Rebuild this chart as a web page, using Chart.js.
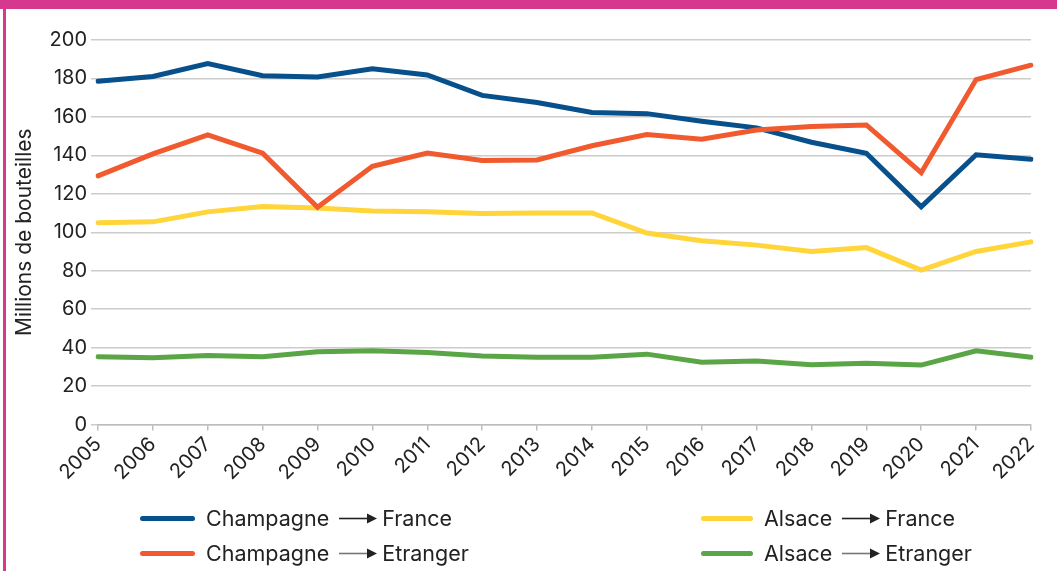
<!DOCTYPE html>
<html>
<head>
<meta charset="utf-8">
<script src="https://cdn.jsdelivr.net/npm/chart.js@4/dist/chart.umd.min.js"></script>
<style>
  html, body { margin: 0; padding: 0; background: #fff; }
  #wrap { position: relative; width: 1057px; height: 571px; overflow: hidden; background: #fff; }
  #topband { position: absolute; left: 0; top: 0; width: 1057px; height: 9px; background: #D6388F; }
  #leftband { position: absolute; left: 3px; top: 9px; width: 3px; height: 562px; background: #D6388F; }
  canvas { position: absolute; left: 0; top: 0; }
  .lg { position: absolute; height: 26px; display: flex; align-items: center; font-family: Inter, Lato, sans-serif; font-size: 21.5px; color: #222; white-space: nowrap; }
  .sw { position: absolute; height: 5px; border-radius: 3px; }
  .arrow { display: inline-block; width: 38px; height: 11px; margin: 0 5px 0 10px; }
</style>
</head>
<body>
<div id="wrap">
  <canvas id="c" width="1057" height="571"></canvas>
  <div id="topband"></div>
  <div id="leftband"></div>
  <div id="legend"></div>
</div>
<script>
const years = ['2005','2006','2007','2008','2009','2010','2011','2012','2013','2014','2015','2016','2017','2018','2019','2020','2021','2022'];
const champagneFrance   = [178.5,181,187.7,181.4,180.8,185,181.8,171.2,167.5,162.3,161.7,157.7,154.3,146.8,141.1,113.2,140.3,138];
const champagneEtranger = [129.3,140.8,150.7,141.1,113,134.3,141.2,137.3,137.6,145,150.8,148.4,153.2,155,155.8,131,179.4,186.9];
const alsaceFrance      = [105,105.4,110.6,113.4,112.6,111.1,110.7,109.7,110,110,99.6,95.6,93.3,90,92,80.3,90,95];
const alsaceEtranger    = [35.3,34.7,35.9,35.2,37.8,38.3,37.5,35.6,35,35,36.6,32.4,33,31.1,31.8,30.9,38.3,35];
const yTicks = [0,20,40,60,80,100,120,140,160,180,200];
const seriesNames = [['Champagne','France'],['Champagne','Etranger'],['Alsace','France'],['Alsace','Etranger']];
const colors = ['#07508B','#F15A2E','#FFD53A','#5AA545'];

const mk = (i, data, order) => ({
  label: seriesNames[i][0] + ' → ' + seriesNames[i][1],
  data, borderColor: colors[i], backgroundColor: colors[i],
  borderWidth: 5, pointRadius: 0, tension: 0, fill: false,
  borderCapStyle: 'round', borderJoinStyle: 'miter', order
});

new Chart(document.getElementById('c'), {
  type: 'line',
  data: {
    labels: years,
    datasets: [
      mk(0, champagneFrance, 1),
      mk(1, champagneEtranger, 0),
      mk(2, alsaceFrance, 2),
      mk(3, alsaceEtranger, 3)
    ]
  },
  options: {
    responsive: false,
    devicePixelRatio: 1,
    animation: false,
    layout: { padding: { top: 40, right: 26, left: 0, bottom: 0 } },
    plugins: { legend: { display: false }, tooltip: { enabled: false } },
    scales: {
      x: {
        type: 'category',
        offset: false,
        grid: { drawOnChartArea: false, drawTicks: true, tickLength: 6, color: '#bdbdbd', lineWidth: 1.5 },
        border: { display: true, color: '#bdbdbd', width: 1.5 },
        ticks: { autoSkip: false, maxRotation: 45, minRotation: 45, color: '#222', padding: 2,
                 font: { family: 'Inter, Lato, sans-serif', size: 20 } },
        afterFit: s => { s.height = 571 - 424.5; }
      },
      y: {
        min: 0, max: 200,
        afterBuildTicks: s => { s.ticks = yTicks.map(v => ({ value: v })); },
        grid: { color: '#cccccc', lineWidth: 1.5, drawTicks: true, tickLength: 7 },
        border: { display: false },
        ticks: { color: '#222', padding: 4, font: { family: 'Inter, Lato, sans-serif', size: 20 } },
        title: { display: true, text: 'Millions de bouteilles', color: '#222',
                 font: { family: 'Inter, Lato, sans-serif', size: 21 }, padding: { top: 12, bottom: 0 } },
        afterFit: s => { s.width = 98; }
      }
    }
  }
});

// Legend (HTML)
const legend = document.getElementById('legend');
const pos = [[140, 518, 206],[140, 553, 206],[701, 518, 764],[701, 553, 764]];
const arrowShaft = ['#222','#777','#222','#777'];
seriesNames.forEach((n, i) => {
  const [sx, cy, tx] = pos[i];
  const sw = document.createElement('div');
  sw.className = 'sw';
  sw.style.left = sx + 'px'; sw.style.top = (cy - 2.5) + 'px';
  sw.style.width = (i < 2 ? 55 : 52) + 'px'; sw.style.background = colors[i];
  legend.appendChild(sw);
  const t = document.createElement('div');
  t.className = 'lg';
  t.style.left = tx + 'px'; t.style.top = (cy - 13) + 'px';
  t.innerHTML = '<span>' + n[0] + '</span>' +
    '<svg class="arrow" viewBox="0 0 38 11" aria-hidden="true"><line x1="0" y1="5.5" x2="30" y2="5.5" stroke="' + arrowShaft[i] + '" stroke-width="1.6"/><polygon points="28,0.5 38,5.5 28,10.5" fill="#222"/></svg>' +
    '<span>' + n[1] + '</span>';
  legend.appendChild(t);
});
</script>
</body>
</html>
